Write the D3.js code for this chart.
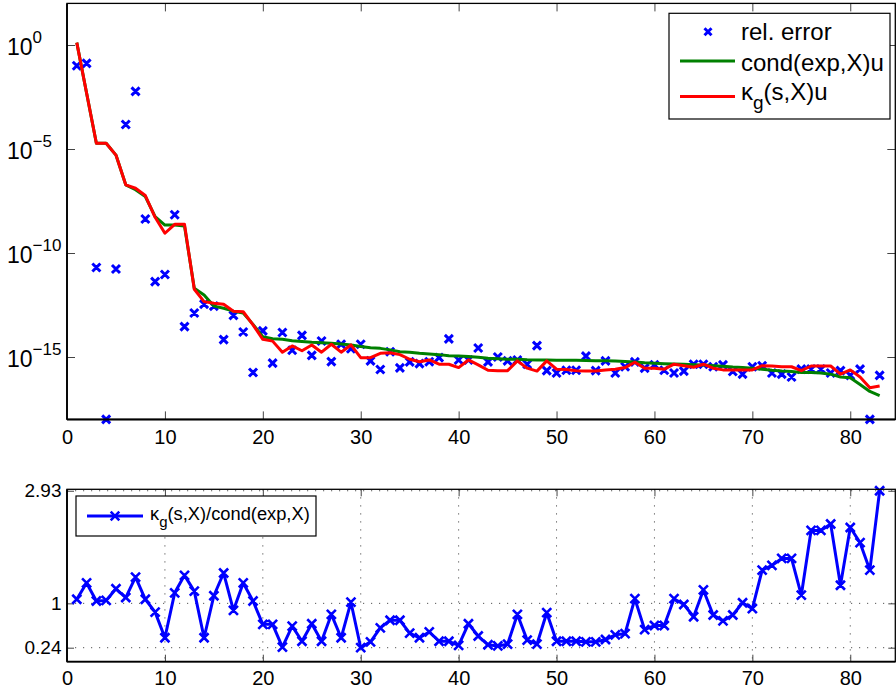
<!DOCTYPE html>
<html>
<head>
<meta charset="utf-8">
<script src="https://cdn.jsdelivr.net/npm/d3@7"></script>
<style>
  html, body { margin: 0; padding: 0; background: #fff; }
  svg { display: block; font-family: "Liberation Sans", Arial, Helvetica, sans-serif; }
</style>
</head>
<body>
<svg id="chart" width="896" height="691"></svg>
<script>
// iteration index
const iter = d3.range(1, 84);

// relative error of the computed result
const relError = [
  1.0e-1, 1.3e-1, 2.0e-11, 1.0e-18, 1.7e-11, 1.5e-4, 5.9e-3, 4.3e-9, 4.2e-12, 9.3e-12,
  6.9e-9, 2.9e-14, 1.3e-13, 3.5e-13, 2.8e-13, 6.8e-15, 1.0e-13, 1.6e-14, 1.8e-16, 1.8e-14,
  5.1e-16, 1.5e-14, 2.1e-15, 1.1e-14, 1.2e-15, 5.9e-15, 6.0e-16, 4.1e-15, 2.5e-15, 4.1e-15,
  6.5e-16, 2.5e-16, 1.8e-15, 3.0e-16, 5.8e-16, 4.8e-16, 5.9e-16, 9.3e-16, 7.4e-15, 7.2e-16,
  7.2e-16, 2.7e-15, 5.8e-16, 1.0e-15, 6.5e-16, 7.2e-16, 4.5e-16, 3.5e-15, 2.2e-16, 1.7e-16,
  2.3e-16, 2.3e-16, 1.1e-15, 2.2e-16, 6.5e-16, 1.7e-16, 3.4e-16, 5.8e-16, 2.9e-16, 4.2e-16,
  2.3e-16, 1.7e-16, 2.1e-16, 4.5e-16, 4.5e-16, 3.4e-16, 4.2e-16, 2.0e-16, 1.5e-16, 3.4e-16,
  3.8e-16, 1.7e-16, 1.5e-16, 1.1e-16, 2.6e-16, 2.6e-16, 2.6e-16, 1.7e-16, 2.2e-16, 1.3e-16,
  2.6e-16, 1.0e-18, 1.3e-16
];

// cond(exp,X)u
const condU = [
  1.3e0, 4.9e-3, 1.9e-5, 1.9e-5, 5.1e-6, 1.9e-7, 1.1e-7, 5.2e-8, 5.6e-9, 2.2e-9,
  2.2e-9, 2.0e-9, 2.0e-12, 9.5e-13, 2.8e-13, 2.2e-13, 1.6e-13, 1.3e-13, 3.7e-14, 9.5e-15,
  7.6e-15, 7.1e-15, 6.0e-15, 5.5e-15, 5.1e-15, 4.9e-15, 4.6e-15, 4.2e-15, 3.8e-15, 3.2e-15,
  2.8e-15, 2.6e-15, 2.2e-15, 1.8e-15, 1.7e-15, 1.5e-15, 1.4e-15, 1.3e-15, 1.15e-15, 1.12e-15,
  1.05e-15, 9.8e-16, 8.7e-16, 8.3e-16, 7.9e-16, 7.8e-16, 7.4e-16, 7.2e-16, 7.2e-16, 6.9e-16,
  6.9e-16, 6.9e-16, 6.8e-16, 6.6e-16, 6.6e-16, 6.4e-16, 6.1e-16, 5.8e-16, 5.3e-16, 5.0e-16,
  4.8e-16, 4.6e-16, 4.5e-16, 4.3e-16, 4.1e-16, 3.8e-16, 3.6e-16, 3.3e-16, 3.1e-16, 2.9e-16,
  2.6e-16, 2.3e-16, 2.1e-16, 2.0e-16, 1.8e-16, 1.8e-16, 1.7e-16, 1.5e-16, 1.1e-16, 1.0e-16,
  4.8e-17, 2.2e-17, 1.4e-17
];

// kappa_g(s,X)u
const kappaU = [
  1.3e0, 4.9e-3, 1.9e-5, 1.9e-5, 5.1e-6, 1.9e-7, 1.3e-7, 5.8e-8, 5.2e-9, 8.9e-10,
  2.4e-9, 2.4e-9, 1.8e-12, 4.6e-13, 3.8e-13, 3.4e-13, 1.6e-13, 1.5e-13, 3.5e-14, 7.1e-15,
  5.8e-15, 1.7e-15, 3.4e-15, 2.0e-15, 3.8e-15, 1.7e-15, 4.1e-15, 1.7e-15, 3.8e-15, 9.3e-16,
  9.3e-16, 1.5e-15, 1.6e-15, 1.3e-15, 7.8e-16, 5.9e-16, 7.2e-16, 4.5e-16, 4.5e-16, 3.1e-16,
  7.2e-16, 4.2e-16, 2.3e-16, 2.2e-16, 2.2e-16, 6.5e-16, 2.9e-16, 2.1e-16, 6.5e-16, 2.6e-16,
  2.5e-16, 2.2e-16, 2.1e-16, 2.1e-16, 2.4e-16, 2.6e-16, 3.1e-16, 5.6e-16, 2.9e-16, 2.9e-16,
  2.6e-16, 4.5e-16, 3.8e-16, 3.2e-16, 4.5e-16, 2.9e-16, 2.4e-16, 2.4e-16, 2.4e-16, 2.4e-16,
  3.8e-16, 3.7e-16, 3.4e-16, 3.4e-16, 2.2e-16, 3.7e-16, 3.7e-16, 3.7e-16, 1.5e-16, 2.4e-16,
  1.1e-16, 3.3e-17, 4.0e-17
];

// kappa_g(s,X) / cond(exp,X)
const ratio = [
  1.07, 1.35, 1.04, 1.05, 1.25, 1.10, 1.45, 1.07, 0.85, 0.41,
  1.18, 1.48, 1.21, 0.41, 1.13, 1.52, 0.88, 1.35, 1.04, 0.64,
  0.64, 0.25, 0.61, 0.35, 0.65, 0.35, 0.81, 0.41, 1.02, 0.24,
  0.34, 0.58, 0.71, 0.71, 0.49, 0.41, 0.51, 0.35, 0.35, 0.28,
  0.65, 0.44, 0.29, 0.27, 0.30, 0.81, 0.37, 0.30, 0.84, 0.35,
  0.35, 0.35, 0.34, 0.34, 0.38, 0.46, 0.48, 1.08, 0.55, 0.62,
  0.62, 1.08, 0.98, 0.77, 1.23, 0.80, 0.70, 0.80, 1.01, 0.91,
  1.57, 1.65, 1.77, 1.77, 1.14, 2.25, 2.25, 2.36, 1.31, 2.30,
  2.04, 1.57, 2.93
];

// tick values
const xTicks = [0, 10, 20, 30, 40, 50, 60, 70, 80];
const logTickExps = [0, -5, -10, -15];
const ratioTicks = [0.24, 1, 2.93];

const svg = d3.select("#chart");
const FONT = '"Liberation Sans", Arial, Helvetica, sans-serif';

// ---------- layout ----------
const L = 67, R = 895.3;
const top1 = 3.4, bot1 = 419.4;
const top2 = 489.3, bot2 = 661.7;

const x = d3.scaleLinear().domain([0, 84.6]).range([L, R]);
const yLog = d3.scaleLog().domain([1e-18, 1e2]).range([bot1, top1]);
const yLin = d3.scaleLinear().domain([0, 2.955]).range([bot2, top2]);

// x marker path of half-size s
function crossPath(cx, cy, s) {
  return `M${cx - s},${cy - s}L${cx + s},${cy + s}M${cx - s},${cy + s}L${cx + s},${cy - s}`;
}

// ================= upper panel =================
const g1 = svg.append("g");

// relative error markers
g1.append("path")
  .attr("d", iter.map((k, i) => crossPath(x(k), yLog(relError[i]), 4)).join(""))
  .attr("fill", "none").attr("stroke", "#0000ff").attr("stroke-width", 3);

const logLine = d3.line().x((d, i) => x(iter[i])).y(d => yLog(d));

g1.append("path").datum(condU)
  .attr("d", logLine).attr("fill", "none")
  .attr("stroke", "#008000").attr("stroke-width", 3).attr("stroke-linejoin", "round");

g1.append("path").datum(kappaU)
  .attr("d", logLine).attr("fill", "none")
  .attr("stroke", "#ff0000").attr("stroke-width", 3).attr("stroke-linejoin", "round");

// axes (inward ticks)
const axB1 = g1.append("g").attr("transform", `translate(0,${bot1})`)
  .call(d3.axisBottom(x).tickValues(xTicks).tickSizeInner(-8).tickSizeOuter(0).tickPadding(10.4));
const axT1 = g1.append("g").attr("transform", `translate(0,${top1})`)
  .call(d3.axisTop(x).tickValues(xTicks.slice(1)).tickSizeInner(-8).tickSizeOuter(0).tickFormat(""));
const logTickVals = logTickExps.map(e => Math.pow(10, e));
const axL1 = g1.append("g").attr("transform", `translate(${L},0)`)
  .call(d3.axisLeft(yLog).tickValues(logTickVals).tickSizeInner(-8).tickSizeOuter(0).tickFormat(""));
const axR1 = g1.append("g").attr("transform", `translate(${R},0)`)
  .call(d3.axisRight(yLog).tickValues(logTickVals).tickSizeInner(-8).tickSizeOuter(0).tickFormat(""));

[axB1, axT1, axL1, axR1].forEach(a => {
  a.select(".domain").remove();
  a.selectAll(".tick line").attr("stroke", "#444").attr("stroke-width", 1);
  a.selectAll("text").attr("font-family", FONT).attr("font-size", 20).attr("fill", "#000");
});
axB1.selectAll(".tick").filter(d => d === 0).select("line").remove();

// power-of-ten labels
logTickExps.forEach(e => {
  const t = g1.append("text")
    .attr("x", 7).attr("y", yLog(Math.pow(10, e)) + 10)
    .attr("font-family", FONT).attr("fill", "#000");
  t.append("tspan").attr("font-size", 23).text("10");
  t.append("tspan").attr("font-size", 17).attr("dy", -12)
    .text(e < 0 ? "\u2212" + (-e) : String(e));
});

// frame
g1.append("rect").attr("x", L).attr("y", top1).attr("width", R - L).attr("height", bot1 - top1)
  .attr("fill", "none").attr("stroke", "#000").attr("stroke-width", 1.3);
g1.append("line").attr("x1", L).attr("x2", R).attr("y1", bot1).attr("y2", bot1)
  .attr("stroke", "#000").attr("stroke-width", 2);
g1.append("line").attr("x1", L).attr("x2", L).attr("y1", top1).attr("y2", bot1)
  .attr("stroke", "#000").attr("stroke-width", 1.8);

// legend
const lg1 = g1.append("g");
lg1.append("rect").attr("x", 669).attr("y", 13.3).attr("width", 221).attr("height", 105.7)
  .attr("fill", "#fff").attr("stroke", "#000").attr("stroke-width", 1.2);
lg1.append("path").attr("d", crossPath(708, 31.7, 3.5))
  .attr("stroke", "#0000ff").attr("stroke-width", 3).attr("fill", "none");
lg1.append("text").attr("x", 741).attr("y", 40).attr("font-size", 24).attr("font-family", FONT)
  .text("rel. error");
lg1.append("line").attr("x1", 680).attr("x2", 735).attr("y1", 61).attr("y2", 61)
  .attr("stroke", "#008000").attr("stroke-width", 3);
lg1.append("text").attr("x", 741).attr("y", 70.5).attr("font-size", 24).attr("font-family", FONT)
  .text("cond(exp,X)u");
lg1.append("line").attr("x1", 680).attr("x2", 735).attr("y1", 96.5).attr("y2", 96.5)
  .attr("stroke", "#ff0000").attr("stroke-width", 3);
const kt = lg1.append("text").attr("x", 741).attr("y", 100).attr("font-size", 24).attr("font-family", FONT);
kt.append("tspan").text("\u03ba");
kt.append("tspan").attr("font-size", 19).attr("dy", 9).text("g");
kt.append("tspan").attr("dy", -9).text("(s,X)u");

// ================= lower panel =================
const g2 = svg.append("g");

// dotted grid
g2.append("g").selectAll("line").data(xTicks.slice(1)).join("line")
  .attr("x1", d => x(d)).attr("x2", d => x(d)).attr("y1", top2).attr("y2", bot2)
  .attr("stroke", "#555").attr("stroke-width", 1).attr("stroke-dasharray", "1.2,6.8");
g2.append("g").selectAll("line").data(ratioTicks).join("line")
  .attr("x1", L).attr("x2", R).attr("y1", d => yLin(d)).attr("y2", d => yLin(d))
  .attr("stroke", "#555").attr("stroke-width", 1).attr("stroke-dasharray", "1.2,6.8");

const axB2 = g2.append("g").attr("transform", `translate(0,${bot2})`)
  .call(d3.axisBottom(x).tickValues(xTicks).tickSizeInner(-7).tickSizeOuter(0).tickPadding(9.1));
const axT2 = g2.append("g").attr("transform", `translate(0,${top2})`)
  .call(d3.axisTop(x).tickValues(xTicks.slice(1)).tickSizeInner(-7).tickSizeOuter(0).tickFormat(""));
const axL2 = g2.append("g").attr("transform", `translate(${L},0)`)
  .call(d3.axisLeft(yLin).tickValues(ratioTicks).tickSizeInner(-7).tickSizeOuter(0).tickPadding(5.5)
    .tickFormat(d => String(d)));
const axR2 = g2.append("g").attr("transform", `translate(${R},0)`)
  .call(d3.axisRight(yLin).tickValues(ratioTicks).tickSizeInner(-7).tickSizeOuter(0).tickFormat(""));
[axB2, axT2, axL2, axR2].forEach(a => {
  a.select(".domain").remove();
  a.selectAll(".tick line").attr("stroke", "#444").attr("stroke-width", 1);
  a.selectAll("text").attr("font-family", FONT).attr("font-size", 20).attr("fill", "#000");
});
axL2.selectAll("text").attr("font-size", 19);
axB2.selectAll(".tick").filter(d => d === 0).select("line").remove();

// ratio curve with markers
const linLine = d3.line().x((d, i) => x(iter[i])).y(d => yLin(d));
g2.append("path").datum(ratio).attr("d", linLine).attr("fill", "none")
  .attr("stroke", "#0000ff").attr("stroke-width", 3).attr("stroke-linejoin", "round");
g2.append("path")
  .attr("d", iter.map((k, i) => crossPath(x(k), yLin(ratio[i]), 4.5)).join(""))
  .attr("fill", "none").attr("stroke", "#0000ff").attr("stroke-width", 2.6);

// frame
g2.append("rect").attr("x", L).attr("y", top2).attr("width", R - L).attr("height", bot2 - top2)
  .attr("fill", "none").attr("stroke", "#000").attr("stroke-width", 1.3);
g2.append("line").attr("x1", L).attr("x2", R).attr("y1", bot2).attr("y2", bot2)
  .attr("stroke", "#000").attr("stroke-width", 1.8);
g2.append("line").attr("x1", L).attr("x2", L).attr("y1", top2).attr("y2", bot2)
  .attr("stroke", "#000").attr("stroke-width", 1.8);

// legend
const lg2 = g2.append("g");
lg2.append("rect").attr("x", 76).attr("y", 496).attr("width", 240).attr("height", 40)
  .attr("fill", "#fff").attr("stroke", "#000").attr("stroke-width", 1.2);
lg2.append("line").attr("x1", 87).attr("x2", 143).attr("y1", 516).attr("y2", 516)
  .attr("stroke", "#0000ff").attr("stroke-width", 3);
lg2.append("path").attr("d", crossPath(115, 516, 4.3))
  .attr("stroke", "#0000ff").attr("stroke-width", 2.6).attr("fill", "none");
const rt = lg2.append("text").attr("x", 150).attr("y", 520).attr("font-size", 18.3).attr("font-family", FONT);
rt.append("tspan").text("\u03ba");
rt.append("tspan").attr("font-size", 15).attr("dy", 7).text("g");
rt.append("tspan").attr("dy", -7).text("(s,X)/cond(exp,X)");
</script>
</body>
</html>
